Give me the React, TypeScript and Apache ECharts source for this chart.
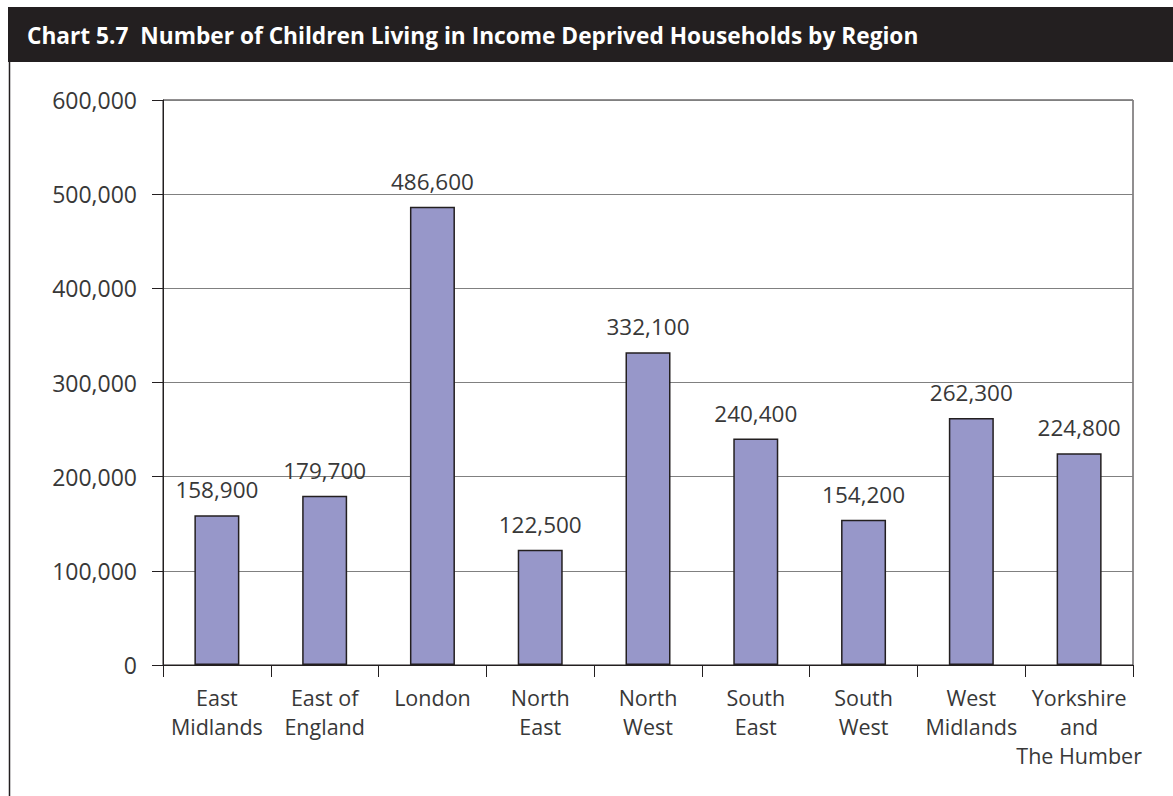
import React, { useEffect, useRef } from "react";
import * as echarts from "echarts";

const titleText = "Chart 5.7  Number of Children Living in Income Deprived Households by Region";
const categories = [
  "East\nMidlands",
  "East of\nEngland",
  "London",
  "North\nEast",
  "North\nWest",
  "South\nEast",
  "South\nWest",
  "West\nMidlands",
  "Yorkshire\nand\nThe Humber",
];
const values = [158900, 179700, 486600, 122500, 332100, 240400, 154200, 262300, 224800];
const yMin = 0;
const yMax = 600000;
const yInterval = 100000;

const FONT = "'Open Sans', 'Noto Sans', sans-serif";
const fmt = (v: number) => v.toLocaleString("en-US");

export default function App() {
  const ref = useRef<HTMLDivElement>(null);
  useEffect(() => {
    if (!ref.current) return;
    const chart = echarts.init(ref.current, null, { renderer: "svg" });
    chart.setOption({
      animation: false,
      backgroundColor: "#ffffff",
      textStyle: { fontFamily: FONT },
      graphic: [
        { type: "rect", shape: { x: 8, y: 7, width: 1165, height: 55 }, style: { fill: "#231f20" }, z: 10 },
        {
          type: "text",
          x: 27,
          y: 35,
          style: {
            text: titleText,
            fill: "#ffffff",
            font: `bold 22.7px ${FONT}`,
            textVerticalAlign: "middle",
          },
          z: 11,
        },
        { type: "line", shape: { x1: 9.5, y1: 62, x2: 9.5, y2: 796 }, style: { stroke: "#231f20", lineWidth: 1.5 }, z: 10 },
      ],
      grid: {
        left: 163,
        right: 40,
        top: 100,
        bottom: 131,
        containLabel: false,
        show: true,
        borderColor: "#231f20",
        borderWidth: 1,
        backgroundColor: "transparent",
      },
      xAxis: {
        type: "category",
        data: categories,
        axisLine: { lineStyle: { color: "#231f20", width: 1 } },
        axisTick: { show: true, length: 12, alignWithLabel: false, lineStyle: { color: "#231f20" } },
        axisLabel: { color: "#383838", fontSize: 21.5, fontFamily: FONT, lineHeight: 29, margin: 18, interval: 0 },
      },
      yAxis: {
        type: "value",
        min: yMin,
        max: yMax,
        interval: yInterval,
        axisLine: { show: true, lineStyle: { color: "#231f20", width: 1 } },
        axisTick: { show: true, length: 11, lineStyle: { color: "#231f20" } },
        axisLabel: { color: "#383838", fontSize: 23, fontFamily: FONT, margin: 26, formatter: (v: number) => fmt(v) },
        splitLine: { show: true, lineStyle: { color: "#808080", width: 1 } },
      },
      series: [
        {
          type: "bar",
          data: values,
          barWidth: 45,
          itemStyle: { color: "#9797c9", borderColor: "#231f20", borderWidth: 1.5 },
          label: {
            show: true,
            position: "top",
            distance: 14,
            color: "#383838",
            fontSize: 22.5,
            fontFamily: FONT,
            formatter: (p: any) => fmt(p.value),
          },
        },
      ],
    });
    return () => chart.dispose();
  }, []);
  return (
    <div
      ref={ref}
      style={{ position: "fixed", left: 0, top: 0, width: 1173, height: 796 }}
    />
  );
}
